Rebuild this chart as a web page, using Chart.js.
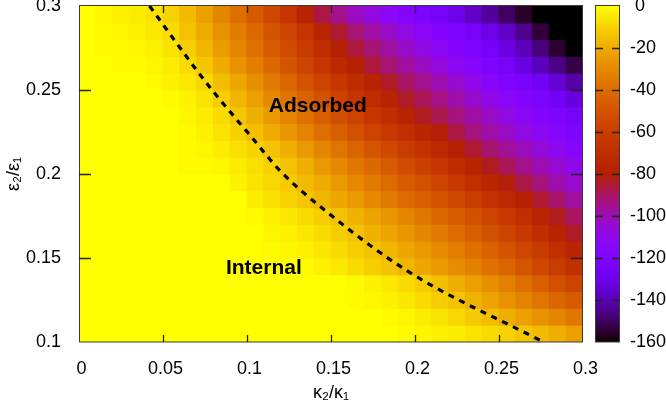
<!DOCTYPE html>
<html><head><meta charset="utf-8">
<script src="https://cdn.jsdelivr.net/npm/chart.js@4.4.1/dist/chart.umd.min.js"></script>
<style>
html,body{margin:0;padding:0;background:#fff;}
#wrap{position:relative;width:666px;height:402px;overflow:hidden;}
#main{position:absolute;left:0;top:0;}
#cb{position:absolute;left:590px;top:0;}
</style></head><body>
<div id="wrap"><canvas id="main" width="666" height="402"></canvas><canvas id="cb" width="76" height="402"></canvas></div>
<script>
// ---------- data ----------
const kappaCenters = [0.005,0.015,0.025,0.035,0.045,0.055,0.065,0.075,0.085,0.095,0.105,0.115,0.125,0.135,0.145,0.155,0.165,0.175,0.185,0.195,0.205,0.215,0.225,0.235,0.245,0.255,0.265,0.275,0.285,0.295];
const epsBottoms = [0.29,0.28,0.27,0.26,0.25,0.24,0.23,0.22,0.21,0.20,0.19,0.18,0.17,0.16,0.15,0.14,0.13,0.12,0.11,0.10];
const epsTops    = [0.30,0.29,0.28,0.27,0.26,0.25,0.24,0.23,0.22,0.21,0.20,0.19,0.18,0.17,0.16,0.15,0.14,0.13,0.12,0.11];

const row_0295 = [0,-2,-3,-4,-6,-10,-16,-23,-31,-39,-47,-55,-65,-77,-87,-95,-102,-107,-112,-118,-122,-126,-131,-137,-143,-150,-156,-160,-160,-160];
const row_0285 = [0,-1,-2,-3,-5,-8,-14,-20,-27,-34,-41,-49,-57,-66,-76,-85,-92,-98,-103,-108,-113,-117,-121,-126,-131,-137,-145,-154,-160,-160];
const row_0275 = [0,-1,-1,-2,-3,-6,-11,-17,-24,-31,-38,-46,-54,-62,-70,-79,-86,-92,-97,-103,-108,-113,-117,-121,-126,-132,-139,-147,-155,-160];
const row_0265 = [0,0,-1,-1,-2,-4,-8,-13,-20,-27,-34,-41,-49,-57,-65,-73,-80,-86,-92,-97,-102,-107,-112,-116,-121,-126,-132,-139,-146,-153];
const row_0255 = [0,0,0,0,-1,-3,-5,-9,-15,-21,-28,-35,-42,-50,-57,-64,-71,-77,-84,-90,-95,-100,-105,-110,-115,-119,-123,-128,-135,-142];
const row_0245 = [0,0,0,0,0,-1,-3,-6,-11,-17,-23,-30,-37,-44,-51,-58,-65,-71,-77,-84,-89,-94,-99,-104,-109,-114,-118,-122,-127,-133];
const row_0235 = [0,0,0,0,0,0,-2,-4,-8,-13,-19,-25,-31,-38,-45,-52,-58,-64,-70,-77,-83,-88,-93,-98,-103,-108,-113,-117,-121,-126];
const row_0225 = [0,0,0,0,0,0,-1,-3,-6,-10,-15,-20,-26,-32,-39,-45,-51,-57,-63,-69,-75,-81,-87,-93,-98,-103,-108,-112,-116,-121];
const row_0215 = [0,0,0,0,0,0,-1,-2,-4,-7,-10,-14,-19,-25,-31,-37,-43,-49,-55,-61,-67,-73,-79,-85,-91,-96,-101,-106,-111,-116];
const row_0205 = [0,0,0,0,0,0,-1,-1,-2,-4,-7,-10,-14,-19,-25,-30,-36,-41,-47,-53,-59,-65,-71,-77,-83,-89,-95,-100,-105,-110];
const row_0195 = [0,0,0,0,0,0,0,0,0,-3,-6,-9,-12,-16,-20,-25,-30,-35,-40,-46,-51,-57,-63,-69,-75,-81,-87,-93,-99,-104];
const row_0185 = [0,0,0,0,0,0,0,0,0,0,-4,-7,-10,-13,-17,-21,-25,-30,-35,-40,-45,-50,-55,-61,-67,-73,-79,-85,-91,-97];
const row_0175 = [0,0,0,0,0,0,0,0,0,0,-1,-3,-5,-8,-11,-14,-18,-22,-26,-31,-36,-41,-46,-51,-57,-63,-69,-76,-83,-90];
const row_0165 = [0,0,0,0,0,0,0,0,0,0,0,-2,-3,-5,-8,-11,-14,-18,-22,-26,-31,-35,-40,-45,-51,-57,-63,-70,-77,-84];
const row_0155 = [0,0,0,0,0,0,0,0,0,0,0,-1,-2,-3,-5,-8,-11,-14,-17,-21,-25,-29,-34,-39,-44,-50,-56,-62,-69,-76];
const row_0145 = [0,0,0,0,0,0,0,0,0,0,0,0,0,-1,-3,-5,-8,-11,-14,-17,-21,-25,-29,-33,-38,-43,-49,-55,-61,-68];
const row_0135 = [0,0,0,0,0,0,0,0,0,0,0,0,0,0,0,0,-1,-3,-5,-8,-11,-15,-19,-23,-28,-33,-39,-45,-51,-57];
const row_0125 = [0,0,0,0,0,0,0,0,0,0,0,0,0,0,0,0,-1,-2,-3,-5,-8,-11,-14,-18,-22,-27,-32,-37,-42,-47];
const row_0115 = [0,0,0,0,0,0,0,0,0,0,0,0,0,0,0,0,0,0,-1,-2,-4,-6,-9,-12,-15,-19,-23,-27,-31,-36];
const row_0105 = [0,0,0,0,0,0,0,0,0,0,0,0,0,0,0,0,0,0,0,-1,-2,-3,-4,-6,-8,-10,-13,-16,-19,-23];

// dashed boundary curve
const boundaryX = [0.042, 0.0704, 0.080, 0.1032, 0.1196, 0.1458, 0.1964, 0.2748];
const boundaryY = [0.300, 0.2613, 0.249, 0.2214, 0.2020, 0.1788, 0.1417, 0.1008];

// region labels
const regionText = ['Adsorbed', 'Internal'];
const regionX = [0.1421, 0.110];
const regionY = [0.2402, 0.144];

// ticks (gnuplot-style leading space for non-negative numbers)
const xTicks = [0, 0.05, 0.1, 0.15, 0.2, 0.25, 0.3];
const xTickLabels = [' 0', ' 0.05', ' 0.1', ' 0.15', ' 0.2', ' 0.25', ' 0.3'];
const yTicks = [0.1, 0.15, 0.2, 0.25, 0.3];
const yTickLabels = ['0.1', '0.15', '0.2', '0.25', '0.3'];
const cbTicks = [0, -20, -40, -60, -80, -100, -120, -140, -160];
const cbTickLabels = [' 0', '-20', '-40', '-60', '-80', '-100', '-120', '-140', '-160'];
const cbMin = -160, cbMax = 0;

// ---------- rendering ----------
const rows = [row_0295,row_0285,row_0275,row_0265,row_0255,row_0245,row_0235,row_0225,row_0215,row_0205,
              row_0195,row_0185,row_0175,row_0165,row_0155,row_0145,row_0135,row_0125,row_0115,row_0105];

function palT(t) {
  t = Math.min(1, Math.max(0, t));
  const r = Math.sqrt(t), g = t * t * t, b = Math.max(0, Math.sin(2 * Math.PI * t));
  return 'rgb(' + Math.round(r * 255) + ',' + Math.round(g * 255) + ',' + Math.round(b * 255) + ')';
}
function pal(v) { return palT((v - cbMin) / (cbMax - cbMin)); }

function noPad(s) { s.paddingTop = 0; s.paddingBottom = 0; s.paddingLeft = 0; s.paddingRight = 0; }

Chart.defaults.font.family = '"Liberation Sans", Arial, Helvetica, sans-serif';
Chart.defaults.color = '#000';

const barSets = rows.map((vals, r) => ({
  type: 'bar',
  data: vals.map((v, c) => ({ x: kappaCenters[c], y: [epsBottoms[r], epsTops[r]] })),
  backgroundColor: vals.map(pal),
  borderWidth: 0,
  inflateAmount: 0.5,
  barPercentage: 1,
  categoryPercentage: 1,
  grouped: false,
  order: 2
}));

const lineSet = {
  type: 'line',
  data: boundaryX.map((x, i) => ({ x: x, y: boundaryY[i] })),
  borderColor: '#000',
  borderWidth: 3.2,
  borderDash: [6, 6],
  borderCapStyle: 'butt',
  pointRadius: 0,
  fill: false,
  cubicInterpolationMode: 'monotone',
  order: 0
};

const framePlugin = {
  id: 'frame',
  afterDatasetsDraw(chart) {
    const { ctx, chartArea: a, scales } = chart;
    ctx.save();
    ctx.fillStyle = '#000';
    ctx.font = 'bold 21px "Liberation Sans", Arial, sans-serif';
    ctx.textAlign = 'center';
    ctx.textBaseline = 'middle';
    regionText.forEach((t, i) => {
      ctx.fillText(t, scales.x.getPixelForValue(regionX[i]), scales.y.getPixelForValue(regionY[i]));
    });
    ctx.strokeStyle = '#3a3a3a';
    ctx.lineWidth = 1;
    ctx.strokeRect(a.left + 0.5, a.top - 0.5, a.right - a.left - 1, a.bottom - a.top + 0.5);
    ctx.strokeStyle = '#222';
    ctx.lineWidth = 1.3;
    ctx.beginPath();
    xTicks.slice(1, -1).forEach(v => {
      const px = Math.round(scales.x.getPixelForValue(v)) + 0.5;
      ctx.moveTo(px, a.bottom); ctx.lineTo(px, a.bottom - 7);
      ctx.moveTo(px, a.top); ctx.lineTo(px, a.top + 7);
    });
    yTicks.slice(1, -1).forEach(v => {
      const py = Math.round(scales.y.getPixelForValue(v)) + 0.5;
      ctx.moveTo(a.left, py); ctx.lineTo(a.left + 12, py);
      ctx.moveTo(a.right, py); ctx.lineTo(a.right - 12, py);
    });
    ctx.stroke();
    ctx.restore();
  }
};

new Chart(document.getElementById('main'), {
  type: 'bar',
  data: { datasets: [lineSet].concat(barSets) },
  options: {
    responsive: false, animation: false, events: [],
    layout: { padding: { left: 0, top: 6, right: 83, bottom: 0 } },
    plugins: { legend: { display: false }, tooltip: { enabled: false } },
    scales: {
      x: {
        type: 'linear', min: 0, max: 0.3, offset: false,
        grid: { display: false, drawTicks: false }, border: { display: false },
        afterBuildTicks(s) { s.ticks = xTicks.map(v => ({ value: v })); },
        ticks: { autoSkip: false, maxRotation: 0, padding: 16, font: { size: 18 }, color: '#000',
                 callback: (v, i) => xTickLabels[i] },
        title: { display: true, text: 'κ₂/κ₁', font: { size: 18, lineHeight: 1 }, padding: { top: 0, bottom: 0 }, color: '#000' },
        afterFit(s) { s.height = 60; noPad(s); }
      },
      y: {
        type: 'linear', min: 0.1, max: 0.3,
        grid: { display: false, drawTicks: false }, border: { display: false },
        afterBuildTicks(s) { s.ticks = yTicks.map(v => ({ value: v })); },
        ticks: { autoSkip: false, padding: 18, font: { size: 18 }, color: '#000',
                 callback: (v, i) => yTickLabels[i] },
        title: { display: true, text: 'ε₂/ε₁', font: { size: 18, lineHeight: 1 }, padding: { top: 5, bottom: 0 }, color: '#000' },
        afterFit(s) { s.width = 79; noPad(s); }
      }
    }
  },
  plugins: [framePlugin]
});

const cbPlugin = {
  id: 'cbframe',
  afterDatasetsDraw(chart) {
    const { ctx, chartArea: a, scales } = chart;
    ctx.save();
    ctx.strokeStyle = '#3a3a3a';
    ctx.lineWidth = 1;
    ctx.strokeRect(a.left + 0.5, a.top - 0.5, a.right - a.left - 1, a.bottom - a.top + 0.5);
    ctx.strokeStyle = '#222';
    ctx.lineWidth = 1.3;
    ctx.beginPath();
    cbTicks.slice(1, -1).forEach(v => {
      const py = Math.round(scales.y.getPixelForValue(v)) + 0.5;
      ctx.moveTo(a.left, py); ctx.lineTo(a.left + 8, py);
      ctx.moveTo(a.right, py); ctx.lineTo(a.right - 8, py);
    });
    ctx.stroke();
    ctx.restore();
  }
};

new Chart(document.getElementById('cb'), {
  type: 'bar',
  data: {
    labels: ['cb'],
    datasets: [{
      data: [[cbMin, cbMax]],
      backgroundColor: (c) => {
        const ch = c.chart; if (!ch.chartArea) return null;
        const ys = ch.scales.y;
        const g = ch.ctx.createLinearGradient(0, ys.getPixelForValue(cbMin), 0, ys.getPixelForValue(cbMax));
        for (let i = 0; i <= 64; i++) g.addColorStop(i / 64, palT(i / 64));
        return g;
      },
      borderWidth: 0, barPercentage: 1, categoryPercentage: 1
    }]
  },
  options: {
    responsive: false, animation: false, events: [],
    layout: { padding: { left: 5, top: 6, right: 0, bottom: 60 } },
    plugins: { legend: { display: false }, tooltip: { enabled: false } },
    scales: {
      x: { display: false },
      y: {
        position: 'right', min: cbMin, max: cbMax,
        grid: { display: false, drawTicks: false }, border: { display: false },
        afterBuildTicks(s) { s.ticks = cbTicks.map(v => ({ value: v })); },
        ticks: { autoSkip: false, padding: 10, font: { size: 18 }, color: '#000',
                 callback: (v, i) => cbTickLabels[i] },
        afterFit(s) { s.width = 46; noPad(s); }
      }
    }
  },
  plugins: [cbPlugin]
});
</script>
</body></html>
